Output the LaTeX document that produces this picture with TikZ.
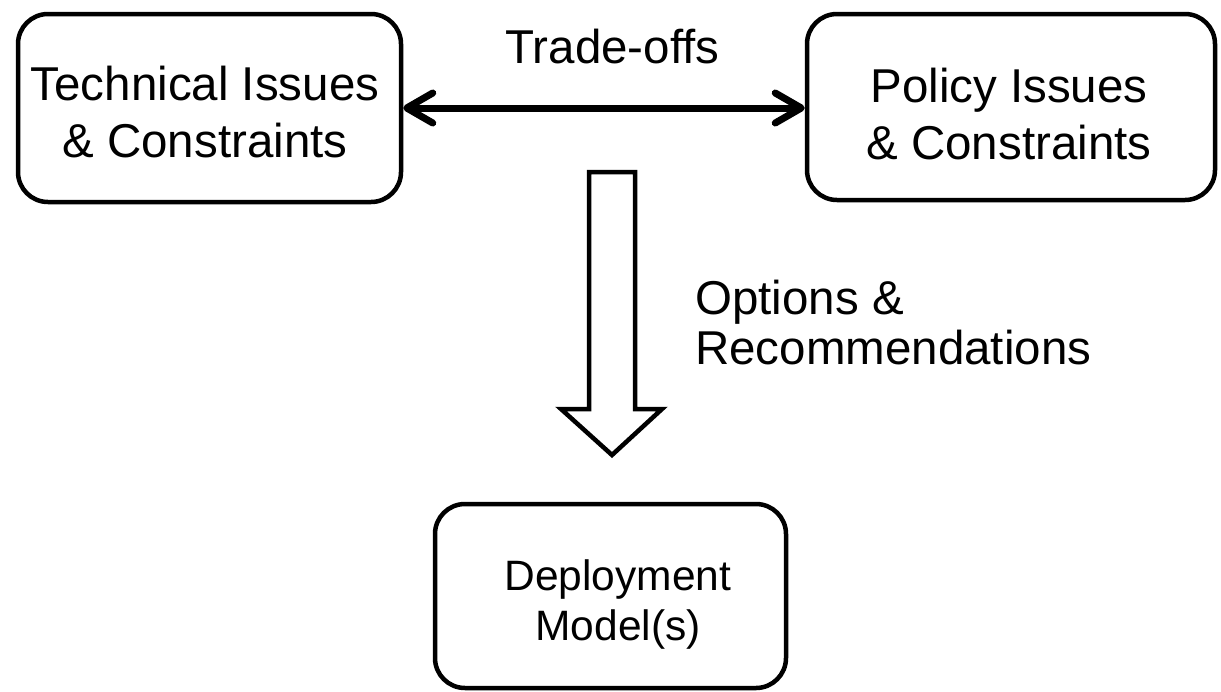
\documentclass[tikz,border=0pt]{standalone}
\usepackage{fontspec}
\setmainfont{Liberation Sans}
\usetikzlibrary{arrows.meta}

\tikzset{
  box/.style={draw, line width=4.5pt, rounded corners=30pt, inner sep=0pt},
  boxtext/.style={inner sep=0pt, align=center,
    font=\fontsize{47.5}{57}\selectfont},
  labeltext/.style={inner sep=0pt, align=left,
    font=\fontsize{47.5}{50}\selectfont},
  deploytext/.style={inner sep=0pt, align=center,
    font=\fontsize{42.5}{50}\selectfont},
  tradearrow/.style={line width=7pt,
    {Straight Barb[length=26pt,width=30pt,round]}-{Straight Barb[length=26pt,width=30pt,round]}},
  blockarrow/.style={draw, line width=4.5pt, fill=white, line join=miter},
}

\begin{document}
\begin{tikzpicture}[x=1pt, y=-1pt]
  \useasboundingbox (0,0) rectangle (1221,691);

  % issue boxes and the resulting model
  \node[box, minimum width=383pt, minimum height=188pt] (tech) at (209.5,108) {};
  \node[boxtext] (techlbl) at (205,112.5) {Technical Issues\\\& Constraints};

  \node[box, minimum width=408pt, minimum height=186pt] (policy) at (1011,107) {};
  \node[boxtext] (policylbl) at (1009,114) {Policy Issues\\\& Constraints};

  \node[box, minimum width=351pt, minimum height=184pt] (deploy) at (610.5,596) {};
  \node[deploytext] (deploylbl) at (618,604) {Deployment\\Model(s)};

  % trade-offs between the two sides
  \draw[tradearrow] (tech.east |- 0,108) -- (policy.west |- 0,108);
  \node[boxtext, anchor=base] (tradelbl) at (612.5,63) {Trade-offs};

  % wide downward arrow
  \draw[blockarrow]
    (589,172) -- (635,172) -- (635,409) -- (662,409) -- (612,455)
    -- (561,409) -- (589,409) -- cycle;
  \node[labeltext, anchor=west] (optlbl) at (695,322.5) {Options \&\\Recommendations};
\end{tikzpicture}
\end{document}
